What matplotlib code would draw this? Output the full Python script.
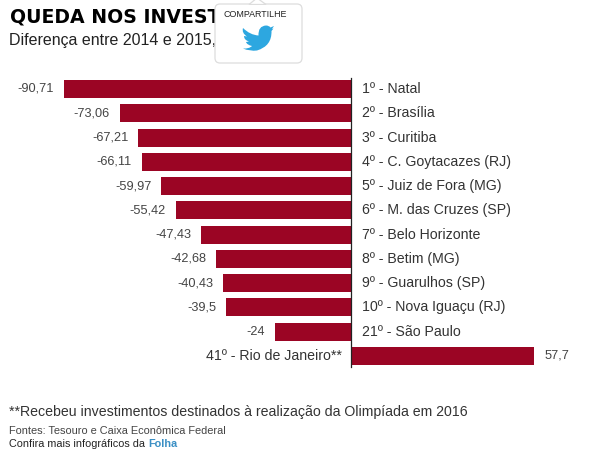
import matplotlib
matplotlib.use('Agg')
import matplotlib.pyplot as plt
from matplotlib.patches import FancyBboxPatch, PathPatch, Polygon
from matplotlib.path import Path

plt.rcParams['font.family'] = ['Liberation Sans', 'DejaVu Sans']

cities = ['1º - Natal', '2º - Brasília', '3º - Curitiba', '4º - C. Goytacazes (RJ)',
          '5º - Juiz de Fora (MG)', '6º - M. das Cruzes (SP)', '7º - Belo Horizonte',
          '8º - Betim (MG)', '9º - Guarulhos (SP)', '10º - Nova Iguaçu (RJ)',
          '21º - São Paulo', '41º - Rio de Janeiro**']
values = [-90.71, -73.06, -67.21, -66.11, -59.97, -55.42, -47.43, -42.68, -40.43, -39.5, -24, 57.7]
value_labels = ['-90,71', '-73,06', '-67,21', '-66,11', '-59,97', '-55,42', '-47,43',
                '-42,68', '-40,43', '-39,5', '-24', '57,7']

RED = '#9b0524'
W, H = 591, 461
fig = plt.figure(figsize=(W / 100, H / 100), dpi=100, facecolor='white')

# chart axes spans the whole figure, zero line ends up at x=351px
px_per_unit = 3.164
ax = fig.add_axes([0, 0, 1, 1])
ax.set_xlim(-351 / px_per_unit, (W - 351) / px_per_unit)
step = 24.27
ax.set_ylim((461 - 89) / step, -89 / step)
ax.axis('off')

ypos = list(range(len(values)))
ax.barh(ypos, values, height=18 / step, color=RED, linewidth=0)
ax.plot([0, 0], [-0.45, 11.45], color='#222222', lw=0.9)

for y, v, name, lab in zip(ypos, values, cities, value_labels):
    if v < 0:
        ax.annotate(lab, (v, y), xytext=(-10, 0), textcoords='offset pixels', ha='right',
                    va='center', fontsize=9.2, color='#444444')
        ax.annotate(name, (0, y), xytext=(11, 0), textcoords='offset pixels', ha='left',
                    va='center', fontsize=10.2, color='#333333')
    else:
        ax.annotate(lab, (v, y), xytext=(11, 0), textcoords='offset pixels', ha='left',
                    va='center', fontsize=9.2, color='#444444')
        ax.annotate(name, (0, y), xytext=(-9, 0), textcoords='offset pixels', ha='right',
                    va='center', fontsize=10.2, color='#333333')

# overlay in pixel coordinates for title, notes and the share popup
ov = fig.add_axes([0, 0, 1, 1], facecolor='none')
ov.set_xlim(0, W)
ov.set_ylim(H, 0)
ov.axis('off')

# the popup hides the rest of both header lines in the reference
ov.text(10, 17, 'QUEDA NOS INVEST', fontsize=13.6, fontweight='bold', color='black',
        family='DejaVu Sans', va='center', ha='left')
ov.text(9, 40, 'Diferença entre 2014 e 2015,', fontsize=11.5, color='#222222',
        va='center', ha='left')

ov.text(9, 412, '**Recebeu investimentos destinados à realização da Olimpíada em 2016',
        fontsize=10.2, color='#333333', va='center', ha='left')
ov.text(9, 431, 'Fontes: Tesouro e Caixa Econômica Federal', fontsize=7.9, color='#444444',
        va='center', ha='left')
t = ov.text(9, 444, 'Confira mais infográficos da ', fontsize=7.8, color='#222222',
            va='center', ha='left')
ov.annotate('Folha', xycoords=t, xy=(1, 0.5), va='center', ha='left', fontsize=7.8,
            color='#3a8fc4', fontweight='bold')

# share popup
ov.add_patch(FancyBboxPatch((218, 7), 81, 53, boxstyle='round,pad=3,rounding_size=5',
                            fc='white', ec='#dddddd', lw=0.9, zorder=5))
ov.add_patch(Polygon([[249, 4.5], [257, -2], [266, 4.5]], closed=True, fc='white', ec='#dddddd',
                     lw=0.9, zorder=5))
ov.add_patch(Polygon([[248, 4.8], [267, 4.8], [267, 7], [248, 7]], closed=True, fc='white',
                     ec='none', zorder=6))
ov.text(255.5, 14.5, 'COMPARTILHE', fontsize=6.4, color='#222222', ha='center', va='center', zorder=7)

bird = [(Path.MOVETO, (243, 28)),
        (Path.CURVE3, (250, 35)), (Path.CURVE3, (258.5, 35.5)),
        (Path.CURVE3, (258, 26)), (Path.CURVE3, (266, 25.5)),
        (Path.CURVE3, (269, 25.5)), (Path.CURVE3, (270.5, 27.5)),
        (Path.LINETO, (274, 26)),
        (Path.LINETO, (272, 29)),
        (Path.LINETO, (273.5, 28.5)),
        (Path.LINETO, (271.5, 31)),
        (Path.CURVE3, (272, 46)), (Path.CURVE3, (257, 50.5)),
        (Path.CURVE3, (250, 51.5)), (Path.CURVE3, (243, 48.5)),
        (Path.CURVE3, (249, 49)), (Path.CURVE3, (252, 46)),
        (Path.CURVE3, (247, 45)), (Path.CURVE3, (246, 42)),
        (Path.LINETO, (249, 41.5)),
        (Path.CURVE3, (244, 40)), (Path.CURVE3, (244, 36)),
        (Path.LINETO, (247, 36.5)),
        (Path.CURVE3, (241.5, 33)), (Path.CURVE3, (243, 28)),
        (Path.CLOSEPOLY, (243, 28))]
codes, verts = zip(*bird)
ov.add_patch(PathPatch(Path(verts, codes), fc='#2da7e0', ec='none', zorder=7))

fig.savefig('out.png', dpi=100, facecolor='white')
